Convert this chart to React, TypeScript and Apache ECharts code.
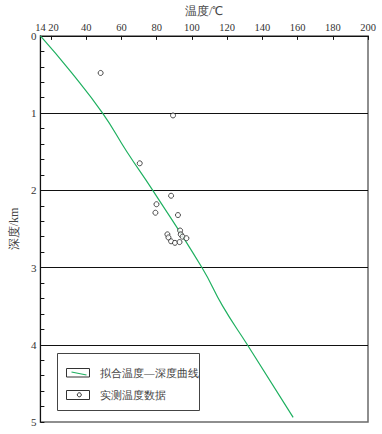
import React, { useEffect, useRef } from "react";
import * as echarts from "echarts";

const curveTemp = [14, 31.1, 49.3, 63.1, 77.8, 105.7, 117.5, 131.5, 157.5];
const curveDepth = [0, 0.46, 1, 1.5, 2, 3, 3.5, 4, 4.94];

const measTemp = [48.2, 89.3, 70.4, 88.2, 79.9, 79.3, 92.1, 93.3, 86.1, 93.7, 86.7, 94.7, 96.9, 88.2, 90.4, 93.0];
const measDepth = [0.48, 1.03, 1.65, 2.07, 2.18, 2.29, 2.32, 2.52, 2.57, 2.57, 2.61, 2.60, 2.62, 2.66, 2.68, 2.67];

const xLabelValues = [14, 20, 40, 60, 80, 100, 120, 140, 160, 180, 200];
const xTickValues = [20, 40, 60, 80, 100, 120, 140, 160, 180, 200];

const seriesNames = ["拟合温度—深度曲线", "实测温度数据"];
const xName = "温度/℃";
const yName = "深度/km";

const FONT = "Liberation Serif";

export default function App() {
  const ref = useRef<HTMLDivElement>(null);
  useEffect(() => {
    if (!ref.current) return;
    const chart = echarts.init(ref.current, undefined, { renderer: "svg" });
    const lineData = curveTemp.map((t, i) => [t, curveDepth[i]]);
    const scatterData = measTemp.map((t, i) => [t, measDepth[i]]);
    chart.setOption({
      animation: false,
      backgroundColor: "#ffffff",
      textStyle: { fontFamily: FONT },
      grid: {
        left: 33,
        top: 34,
        width: 335,
        height: 388,
        show: true,
        borderColor: "#6a6a6a",
        borderWidth: 1.5,
        containLabel: false,
      },
      xAxis: {
        type: "value",
        position: "top",
        min: 14,
        max: 200,
        name: xName,
        nameLocation: "middle",
        nameGap: 9,
        nameTextStyle: { fontSize: 12, color: "#444", fontFamily: FONT },
        axisLine: { show: true, lineStyle: { color: "#111", width: 1 } },
        axisTick: {
          show: true,
          inside: true,
          length: 4,
          customValues: xTickValues,
          lineStyle: { color: "#111" },
        },
        axisLabel: {
          show: true,
          customValues: xLabelValues,
          hideOverlap: false,
          fontSize: 10.5,
          color: "#333",
          margin: 3,
          fontFamily: FONT,
          formatter: (v: number) => (v === 20 ? "{p|20}" : String(v)),
          rich: {
            p: { padding: [0, 0, 0, 5], fontSize: 10.5, color: "#333", fontFamily: FONT },
          },
        },
        splitLine: { show: false },
      },
      yAxis: {
        type: "value",
        inverse: true,
        min: 0,
        max: 5,
        interval: 1,
        name: yName,
        nameLocation: "middle",
        nameGap: 14,
        nameRotate: 90,
        nameTextStyle: { fontSize: 12, color: "#444", fontFamily: FONT },
        axisLine: { show: true, lineStyle: { color: "#111", width: 1 } },
        axisTick: { show: true, inside: true, length: 4, lineStyle: { color: "#111" } },
        minorTick: { show: true, splitNumber: 5, length: 4, lineStyle: { color: "#111" } },
        axisLabel: { fontSize: 11, color: "#333", margin: 4, fontFamily: FONT, showMinLabel: true, showMaxLabel: true },
        splitLine: {
          show: true,
          showMinLine: false,
          showMaxLine: false,
          lineStyle: { color: "#111", width: 1 },
        },
      },
      series: [
        {
          name: seriesNames[0],
          type: "line",
          data: lineData,
          smooth: true,
          showSymbol: false,
          lineStyle: { color: "#1fb060", width: 1.2 },
          z: 3,
        },
        {
          name: seriesNames[1],
          type: "scatter",
          data: scatterData,
          symbol: "circle",
          symbolSize: 5,
          itemStyle: { color: "#ffffff", borderColor: "#222", borderWidth: 1 },
          z: 4,
        },
      ],
      graphic: [
        {
          type: "group",
          z: 100,
          children: [
            {
              type: "rect",
              shape: { x: 57.5, y: 353.5, width: 142, height: 57 },
              style: { fill: "#ffffff", stroke: "#444", lineWidth: 1 },
            },
            {
              type: "rect",
              shape: { x: 66.5, y: 368.5, width: 23, height: 8.5 },
              style: { fill: "#ffffff", stroke: "#333", lineWidth: 1 },
            },
            {
              type: "line",
              shape: { x1: 71.5, y1: 372, x2: 86.5, y2: 375 },
              style: { stroke: "#1fb060", lineWidth: 1.2 },
            },
            {
              type: "text",
              x: 100,
              y: 373,
              style: {
                text: seriesNames[0],
                font: "10.5px " + FONT,
                fill: "#444",
                verticalAlign: "middle",
              },
            },
            {
              type: "rect",
              shape: { x: 66.5, y: 390.5, width: 23, height: 9 },
              style: { fill: "#ffffff", stroke: "#333", lineWidth: 1 },
            },
            {
              type: "circle",
              shape: { cx: 79.3, cy: 394.8, r: 2 },
              style: { fill: "#ffffff", stroke: "#222", lineWidth: 1 },
            },
            {
              type: "text",
              x: 100,
              y: 395,
              style: {
                text: seriesNames[1],
                font: "10.5px " + FONT,
                fill: "#444",
                verticalAlign: "middle",
              },
            },
          ],
        },
      ],
    });
    return () => chart.dispose();
  }, []);
  return (
    <div
      ref={ref}
      style={{ position: "absolute", left: 0, top: 0, width: 382, height: 434 }}
    />
  );
}
